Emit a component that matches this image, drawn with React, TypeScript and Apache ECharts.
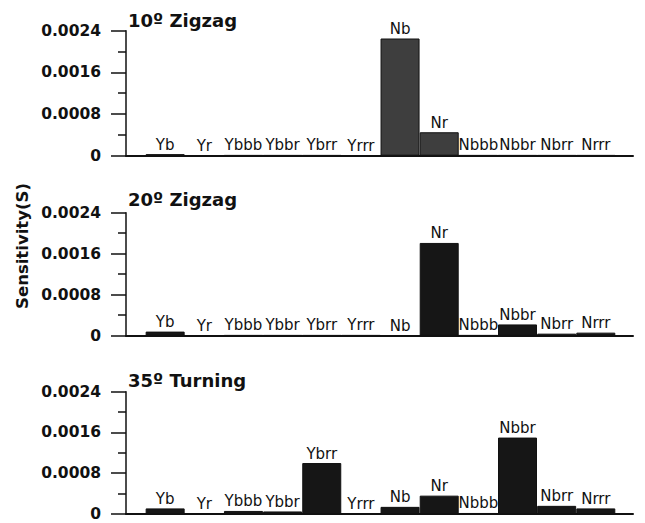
import React, { useEffect, useRef } from "react";
import * as echarts from "echarts";

const categories = ["Yb", "Yr", "Ybbb", "Ybbr", "Ybrr", "Yrrr", "Nb", "Nr", "Nbbb", "Nbbr", "Nbrr", "Nrrr"];
const zigzag10 = [0.00003, 0.000005, 0.00001, 0.00001, 0.00001, 0.000005, 0.00225, 0.00045, 0.00001, 0.00001, 0.00001, 0.00001];
const zigzag20 = [0.00008, 0.000005, 0.00001, 0.00001, 0.00001, 0.00001, 0.000005, 0.00181, 0.00001, 0.00022, 0.00004, 0.00006];
const turning35 = [0.00011, 0.000005, 0.00006, 0.00005, 0.001, 0.00001, 0.00014, 0.00036, 0.00002, 0.0015, 0.00016, 0.00011];
const panelTitles = ["10º Zigzag", "20º Zigzag", "35º Turning"];
const yTickLabels = ["0", "0.0008", "0.0016", "0.0024"];
const yAxisName = "Sensitivity(S)";

const FONT = "'DejaVu Sans', Arial, sans-serif";
const INK = "#111";

export default function App() {
  const ref = useRef<HTMLDivElement>(null);
  useEffect(() => {
    if (!ref.current) return;
    const chart = echarts.init(ref.current, undefined, { renderer: "svg" });
    const panels = [
      { data: zigzag10, top: 30.7, height: 125, titleTop: 11.7, fill: "#3e3e3e", border: "#111" },
      { data: zigzag20, top: 212.7, height: 123, titleTop: 190.7, fill: "#161616", border: "#111" },
      { data: turning35, top: 391.7, height: 122.3, titleTop: 371.7, fill: "#161616", border: "#111" },
    ];
    const option: any = {
      animation: false,
      backgroundColor: "#fff",
      title: panels.map((p, i) => ({
        text: panelTitles[i],
        left: 128,
        top: p.titleTop,
        padding: 0,
        textStyle: { fontFamily: FONT, fontSize: 18, fontWeight: "bold", color: INK },
      })),
      grid: panels.map((p) => ({ left: 126, right: 12, top: p.top, height: p.height, containLabel: false })),
      xAxis: panels.map((_, i) => ({
        type: "value",
        gridIndex: i,
        min: -1,
        max: 11.95,
        axisLine: { show: true, onZero: true, lineStyle: { color: INK, width: 2 } },
        axisTick: { show: false },
        axisLabel: { show: false },
        splitLine: { show: false },
      })),
      yAxis: panels.map((_, i) => ({
        type: "value",
        gridIndex: i,
        position: "left",
        min: 0,
        max: 0.0024,
        interval: 0.0008,
        axisLine: { show: true, onZero: false, lineStyle: { color: INK, width: 1.5 } },
        axisTick: { show: true, inside: false, length: 15, lineStyle: { color: INK, width: 1.5 } },
        minorTick: { show: true, splitNumber: 2, length: 8, lineStyle: { color: INK, width: 1.5 } },
        axisLabel: {
          show: true,
          margin: 25,
          fontFamily: FONT,
          fontSize: 15.5,
          fontWeight: "bold",
          color: INK,
          formatter: (_v: number, idx: number) => yTickLabels[idx],
        },
        splitLine: { show: false },
        minorSplitLine: { show: false },
      })),
      series: panels.map((p, i) => ({
        type: "bar",
        xAxisIndex: i,
        yAxisIndex: i,
        barWidth: 39,
        data: p.data.map((v, k) => [k, v]),
        itemStyle: { color: p.fill, borderColor: p.border, borderWidth: 1 },
        label: {
          show: true,
          position: "top",
          distance: 2,
          fontFamily: FONT,
          fontSize: 15,
          color: INK,
          formatter: (prm: any) => categories[prm.dataIndex],
        },
      })),
      graphic: [
        {
          type: "text",
          x: 22,
          y: 246,
          rotation: Math.PI / 2,
          style: {
            text: yAxisName,
            fontFamily: FONT,
            fontSize: 16.5,
            fontWeight: "bold",
            fill: INK,
            align: "center",
            verticalAlign: "middle",
          },
        },
      ],
    };
    chart.setOption(option);
    return () => chart.dispose();
  }, []);
  return <div ref={ref} style={{ position: "fixed", left: 0, top: 0, width: 645, height: 523 }} />;
}
